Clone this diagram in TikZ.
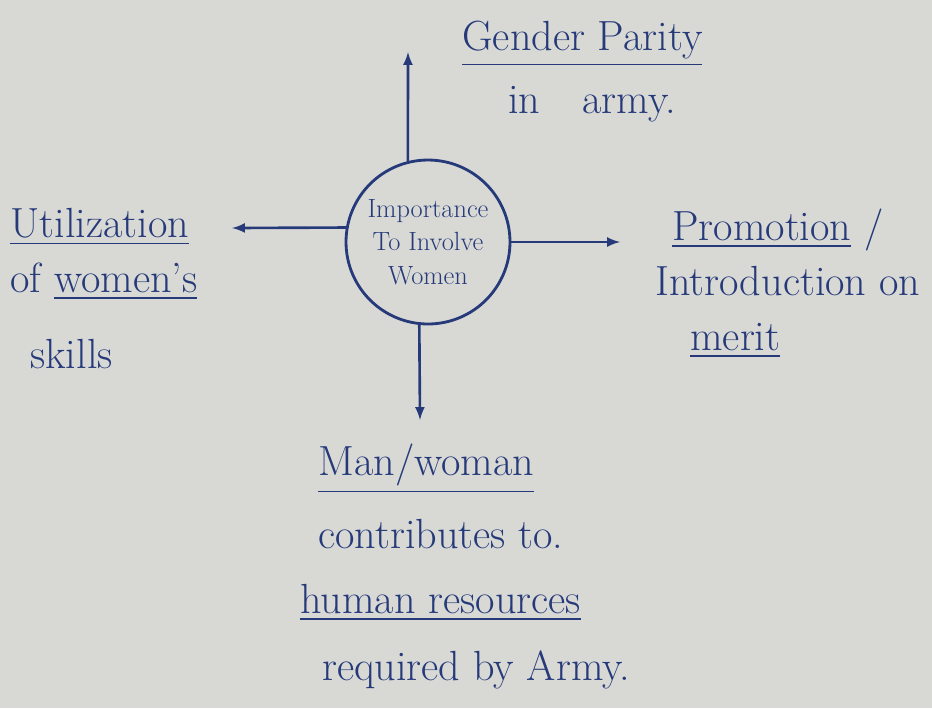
\documentclass[tikz,border=0pt]{standalone}
\usepackage{tikz}
\usepackage{amsmath,amssymb}
\definecolor{encre}{RGB}{38,58,122}
\definecolor{papier}{RGB}{216,217,213}

\begin{document}
\begin{tikzpicture}[x=0.02cm,y=-0.02cm]
    % Styles (MODIFIABLES)
    \tikzstyle{fleche}=[->,>=latex,line width=1.5pt,draw=encre]
    \tikzstyle{noeud}=[circle,draw=encre,line width=1.6pt,minimum size=3.28cm,inner sep=0pt,align=center,text=encre,font=\fontsize{15}{19}\selectfont]
    \tikzstyle{texte}=[anchor=base west,inner sep=0pt,text=encre,font=\fontsize{24}{28}\selectfont]
    % Fond
    \fill[papier] (0,0) rectangle (932,708);
    \useasboundingbox (0,0) rectangle (932,708);
    % Noeud central
    \node[noeud] (C) at (428,242) {Importance\\To Involve\\Women};
    % Extremites des fleches
    \coordinate (Ha) at (408,52);
    \coordinate (Ga) at (232,228);
    \coordinate (Da) at (620,242);
    \coordinate (Ba) at (420,420);
    % Etiquettes (haut)
    \node[texte] (Ca) at (462,50) {\underline{Gender Parity}};
    \node[texte] (Caa) at (508,113) {in\quad army.};
    % Etiquettes (gauche)
    \node[texte] (Cb) at (10,237) {\underline{Utilization}};
    \node[texte] (Cba) at (10,292) {of \underline{women's}};
    \node[texte] (Cbb) at (30,368) {skills};
    % Etiquettes (droite)
    \node[texte] (Cc) at (672,240) {\underline{Promotion} /};
    \node[texte] (Cca) at (655,295) {Introduction on};
    \node[texte] (Ccb) at (690,350) {\underline{merit}};
    % Etiquettes (bas)
    \node[texte] (Cd) at (318,475) {\underline{Man/woman}};
    \node[texte] (Cda) at (318,548) {contributes to.};
    \node[texte] (Cdb) at (300,613) {\underline{human resources}};
    \node[texte] (Cdc) at (322,680) {required by Army.};
    % Fleches
    \draw[fleche] (C.104)--(Ha) ;
    \draw[fleche] (C.170)--(Ga) ;
    \draw[fleche] (C.0)--(Da) ;
    \draw[fleche] (C.264)--(Ba) ;
\end{tikzpicture}
\end{document}
